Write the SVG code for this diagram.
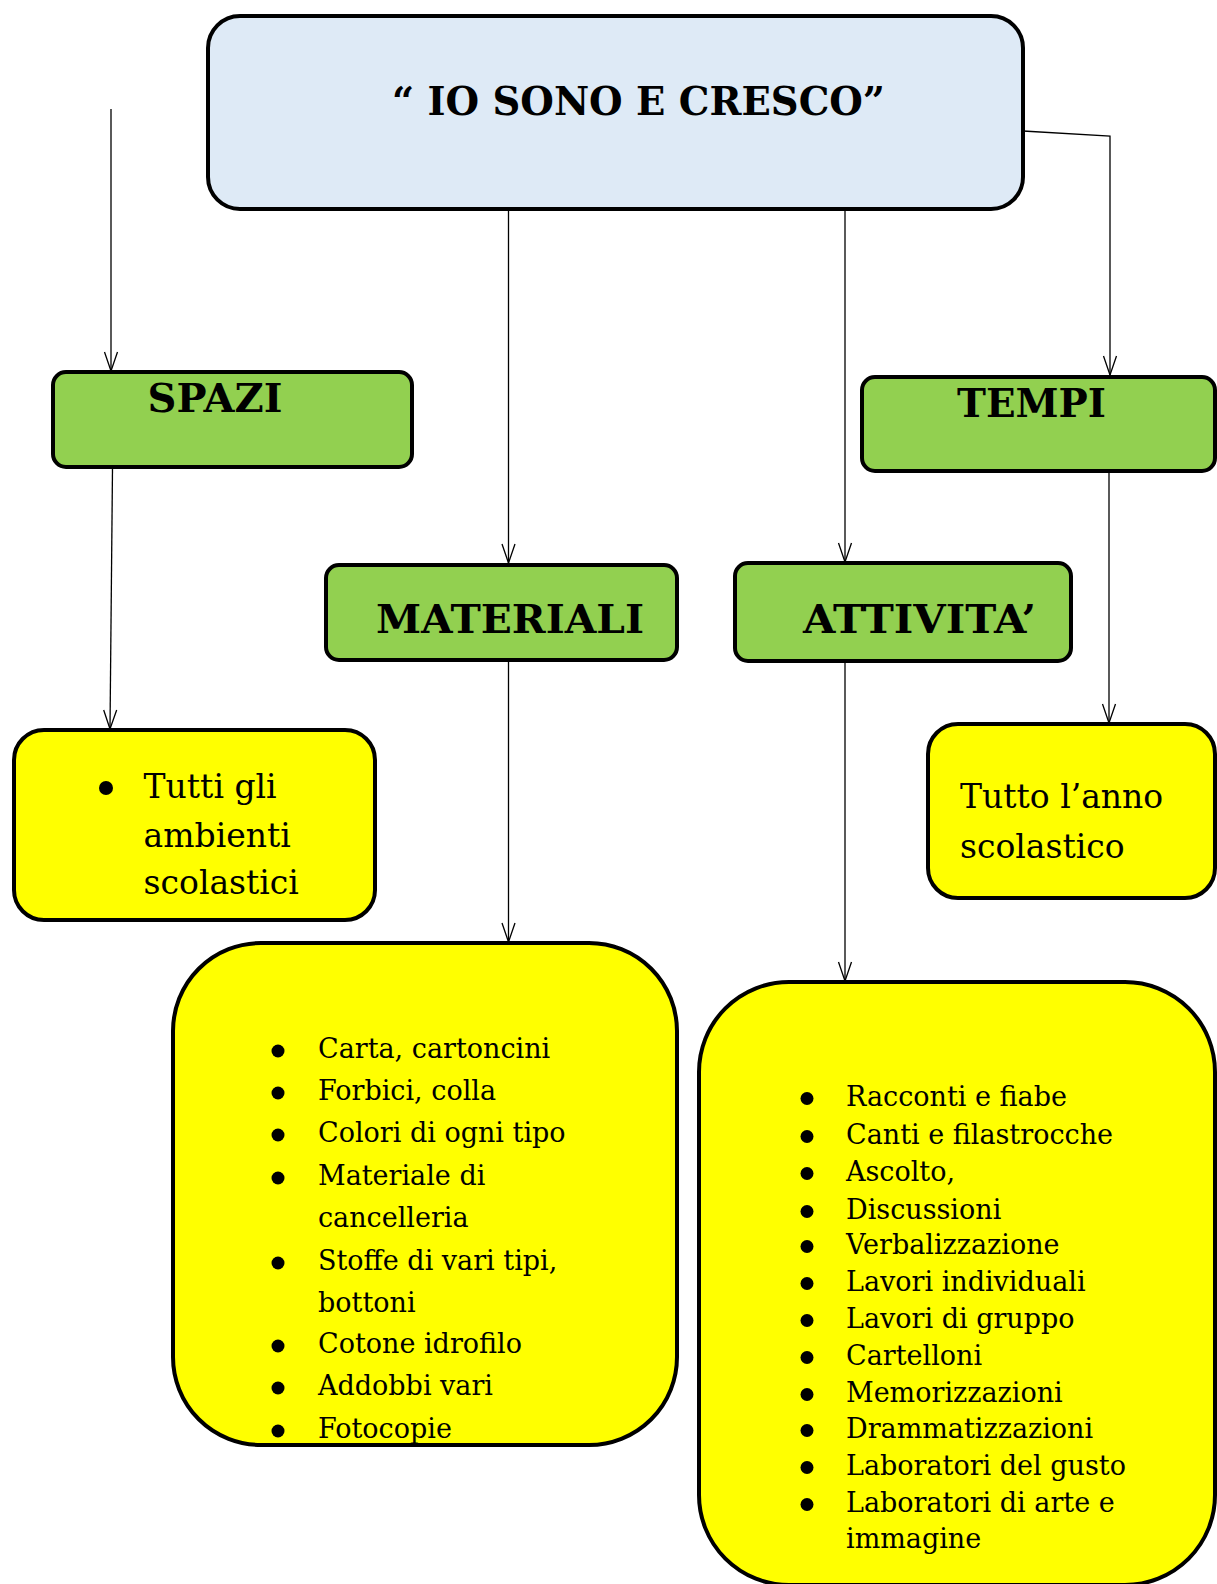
<svg xmlns="http://www.w3.org/2000/svg" width="1217" height="1584" viewBox="0 0 1217 1584">
<style>
.box{stroke:#000;stroke-width:4}
.title{fill:#DEEAF6}
.green{fill:#92D050}
.yellow{fill:#FFFF00}
.hd{font-family:"DejaVu Serif","Liberation Serif",serif;font-weight:bold;font-size:40px;fill:#000}
.t33{font-family:"DejaVu Serif","Liberation Serif",serif;font-size:33px;fill:#000}
.t27{font-family:"DejaVu Serif","Liberation Serif",serif;font-size:27px;fill:#000}
.conn{stroke:#000;stroke-width:1.3;fill:none}
</style>
<defs>
<marker id="arr" markerUnits="userSpaceOnUse" markerWidth="22" markerHeight="22" viewBox="-21 -11 22 22" refX="0" refY="0" orient="auto">
<path d="M-19,-6.5 L0,0 L-19,6.5" fill="none" stroke="#000" stroke-width="1.3"/>
</marker>
</defs>
<rect width="1217" height="1584" fill="#fff"/>
<g id="connectors">
<line class="conn" x1="111" y1="109" x2="111" y2="371" marker-end="url(#arr)"/>
<polyline class="conn" points="1023,131 1110,136 1110,375" marker-end="url(#arr)"/>
<line class="conn" x1="508.5" y1="207" x2="508.5" y2="563" marker-end="url(#arr)"/>
<line class="conn" x1="845" y1="210" x2="845" y2="562" marker-end="url(#arr)"/>
<line class="conn" x1="112.5" y1="468" x2="110" y2="729" marker-end="url(#arr)"/>
<line class="conn" x1="1109" y1="471" x2="1109" y2="723" marker-end="url(#arr)"/>
<line class="conn" x1="508.5" y1="660" x2="508.5" y2="942" marker-end="url(#arr)"/>
<line class="conn" x1="845" y1="661" x2="845" y2="981" marker-end="url(#arr)"/>
</g>
<g id="title">
<rect class="box title" x="208" y="16" width="815" height="193" rx="32"/>
<text class="hd" x="392" y="115" textLength="493" lengthAdjust="spacingAndGlyphs">“ IO SONO E CRESCO”</text>
</g>
<g id="spazi">
<rect class="box green" x="53" y="372" width="359" height="95" rx="13"/>
<text class="hd" x="147.5" y="412" textLength="135" lengthAdjust="spacingAndGlyphs">SPAZI</text>
</g>
<g id="tempi">
<rect class="box green" x="862" y="377" width="353" height="94" rx="13"/>
<text class="hd" x="957" y="417" textLength="149" lengthAdjust="spacingAndGlyphs">TEMPI</text>
</g>
<g id="materiali">
<rect class="box green" x="326" y="565" width="351" height="95" rx="13"/>
<text class="hd" x="376" y="633" textLength="268" lengthAdjust="spacingAndGlyphs">MATERIALI</text>
</g>
<g id="attivita">
<rect class="box green" x="735" y="563" width="336" height="98" rx="13"/>
<text class="hd" x="803" y="633" textLength="233" lengthAdjust="spacingAndGlyphs">ATTIVITA’</text>
</g>
<g id="spazi-detail">
<rect class="box yellow" x="14" y="730" width="361" height="190" rx="30"/>
<circle cx="106" cy="788" r="7"/>
<text class="t33" x="143.6" y="798">Tutti gli</text>
<text class="t33" x="143.6" y="847">ambienti</text>
<text class="t33" x="143.6" y="894">scolastici</text>
</g>
<g id="tempi-detail">
<rect class="box yellow" x="928" y="724" width="287" height="174" rx="30"/>
<text class="t33" x="960" y="808">Tutto l’anno</text>
<text class="t33" x="960" y="858">scolastico</text>
</g>
<g id="materiali-detail">
<rect class="box yellow" x="173" y="943" width="504" height="502" rx="88"/>
<g>
<circle cx="278" cy="1051" r="6.5"/>
<circle cx="278" cy="1093" r="6.5"/>
<circle cx="278" cy="1135" r="6.5"/>
<circle cx="278" cy="1178" r="6.5"/>
<circle cx="278" cy="1263" r="6.5"/>
<circle cx="278" cy="1346" r="6.5"/>
<circle cx="278" cy="1388" r="6.5"/>
<circle cx="278" cy="1431" r="6.5"/>
</g>
<text class="t27" x="318" y="1058">Carta, cartoncini</text>
<text class="t27" x="318" y="1100">Forbici, colla</text>
<text class="t27" x="318" y="1142">Colori di ogni tipo</text>
<text class="t27" x="318" y="1185">Materiale di</text>
<text class="t27" x="318" y="1227">cancelleria</text>
<text class="t27" x="318" y="1270">Stoffe di vari tipi,</text>
<text class="t27" x="318" y="1312">bottoni</text>
<text class="t27" x="318" y="1353">Cotone idrofilo</text>
<text class="t27" x="318" y="1395">Addobbi vari</text>
<text class="t27" x="318" y="1438">Fotocopie</text>
</g>
<g id="attivita-detail">
<rect class="box yellow" x="699" y="982" width="516" height="603" rx="90"/>
<g>
<circle cx="807" cy="1098.5" r="6.5"/>
<circle cx="807" cy="1136.5" r="6.5"/>
<circle cx="807" cy="1173.5" r="6.5"/>
<circle cx="807" cy="1211.5" r="6.5"/>
<circle cx="807" cy="1246.5" r="6.5"/>
<circle cx="807" cy="1283.5" r="6.5"/>
<circle cx="807" cy="1320.5" r="6.5"/>
<circle cx="807" cy="1357.5" r="6.5"/>
<circle cx="807" cy="1394.5" r="6.5"/>
<circle cx="807" cy="1430.5" r="6.5"/>
<circle cx="807" cy="1467.5" r="6.5"/>
<circle cx="807" cy="1504.5" r="6.5"/>
</g>
<text class="t27" x="846" y="1106">Racconti e fiabe</text>
<text class="t27" x="846" y="1144">Canti e filastrocche</text>
<text class="t27" x="846" y="1181">Ascolto,</text>
<text class="t27" x="846" y="1219">Discussioni</text>
<text class="t27" x="846" y="1254">Verbalizzazione</text>
<text class="t27" x="846" y="1291">Lavori individuali</text>
<text class="t27" x="846" y="1328">Lavori di gruppo</text>
<text class="t27" x="846" y="1365">Cartelloni</text>
<text class="t27" x="846" y="1402">Memorizzazioni</text>
<text class="t27" x="846" y="1438">Drammatizzazioni</text>
<text class="t27" x="846" y="1475">Laboratori del gusto</text>
<text class="t27" x="846" y="1512">Laboratori di arte e</text>
<text class="t27" x="846" y="1548">immagine</text>
</g>
</svg>
